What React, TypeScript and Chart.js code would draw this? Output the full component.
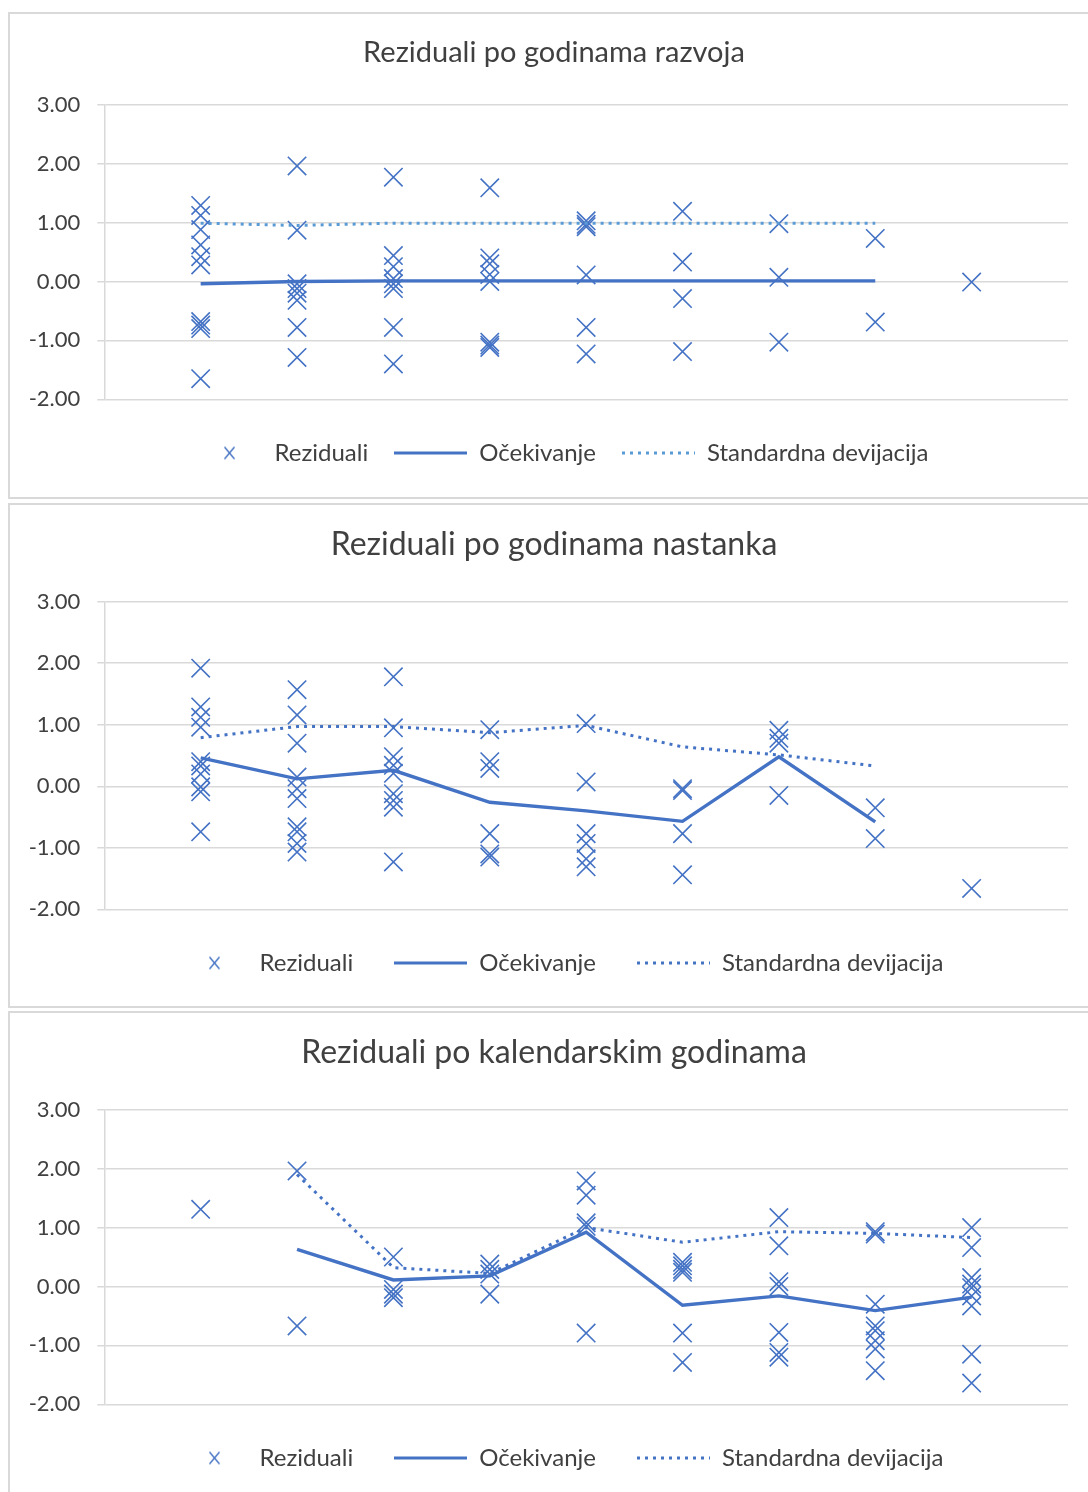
import React, { useEffect, useRef } from "react";
import { Chart, registerables } from "chart.js";

Chart.register(...registerables);

// ---------- data ----------
const xCategories = [1, 2, 3, 4, 5, 6, 7, 8, 9];
const yTickValues = [-2, -1, 0, 1, 2, 3];

const legendLabels = ["Reziduali", "Očekivanje", "Standardna devijacija"];

// Chart 1: Reziduali po godinama razvoja
const razvojTitle = "Reziduali po godinama razvoja";
const razvojResiduals: number[][] = [
  [1.29, 1.12, 0.88, 0.62, 0.42, 0.28, -0.68, -0.74, -0.8, -1.65],
  [1.96, 0.87, -0.04, -0.12, -0.2, -0.32, -0.78, -1.29],
  [1.77, 0.44, 0.25, 0.05, -0.04, -0.12, -0.78, -1.4],
  [1.59, 0.4, 0.3, 0.12, 0.0, -1.03, -1.08, -1.12],
  [1.03, 0.97, 0.93, 0.11, -0.78, -1.23],
  [1.19, 0.33, -0.29, -1.19],
  [0.98, 0.07, -1.03],
  [0.73, -0.69],
  [-0.01],
];
const razvojExpected: (number | null)[] = [-0.04, 0.0, 0.01, 0.01, 0.01, 0.01, 0.01, 0.01, null];
const razvojStd: (number | null)[] = [0.99, 0.95, 0.99, 0.99, 0.99, 0.99, 0.99, 0.99, null];

// Chart 2: Reziduali po godinama nastanka
const nastankaTitle = "Reziduali po godinama nastanka";
const nastankaResiduals: number[][] = [
  [1.92, 1.29, 1.12, 0.96, 0.4, 0.33, 0.2, -0.01, -0.09, -0.74],
  [1.57, 1.16, 0.7, 0.15, -0.04, -0.2, -0.66, -0.74, -0.93, -1.07],
  [1.78, 0.95, 0.48, 0.34, 0.21, -0.12, -0.23, -0.34, -1.23],
  [0.92, 0.4, 0.29, -0.77, -1.1, -1.15],
  [1.02, 0.07, -0.77, -0.93, -1.18, -1.31],
  [-0.04, -0.07, -0.77, -1.44],
  [0.91, 0.78, 0.7, -0.15],
  [-0.35, -0.85],
  [-1.66],
];
const nastankaExpected: (number | null)[] = [0.46, 0.12, 0.26, -0.26, -0.4, -0.57, 0.48, -0.58, null];
const nastankaStd: (number | null)[] = [0.79, 0.97, 0.97, 0.87, 0.99, 0.64, 0.51, 0.33, null];

// Chart 3: Reziduali po kalendarskim godinama
const kalendarTitle = "Reziduali po kalendarskim godinama";
const kalendarResiduals: number[][] = [
  [1.31],
  [1.96, -0.67],
  [0.5, -0.05, -0.13, -0.19],
  [0.38, 0.29, 0.21, -0.13],
  [1.79, 1.55, 1.08, 1.02, -0.79],
  [0.41, 0.35, 0.29, 0.24, -0.79, -1.29],
  [1.17, 0.69, 0.08, 0.0, -0.78, -1.12, -1.2],
  [0.93, 0.89, -0.3, -0.67, -0.75, -0.92, -1.06, -1.43],
  [1.0, 0.66, 0.15, 0.04, -0.02, -0.16, -0.33, -1.15, -1.64],
];
const kalendarExpected: (number | null)[] = [null, 0.63, 0.11, 0.18, 0.92, -0.32, -0.16, -0.41, -0.18];
const kalendarStd: (number | null)[] = [null, 1.9, 0.32, 0.22, 1.0, 0.75, 0.93, 0.9, 0.83];

// ---------- styles ----------
const BLUE = "#4472C4";
const LIGHT_BLUE = "#5B9BD5";
const GRID = "#D9D9D9";
const TEXT = "#404040";
const FONT = "Lato";

type Spec = {
  title: string;
  residuals: number[][];
  expected: (number | null)[];
  std: (number | null)[];
  stdColor: string;
  boxTop: number;
  boxHeight: number;
  canvasHeight: number;
  titleSize: number;
  titlePadTop: number;
  titlePadBottom: number;
  legendPadding: number;
  xAxisHeight: number;
  padBottom: number;
};

const specs: Spec[] = [
  {
    title: razvojTitle,
    residuals: razvojResiduals,
    expected: razvojExpected,
    std: razvojStd,
    stdColor: LIGHT_BLUE,
    boxTop: 12,
    boxHeight: 487,
    canvasHeight: 483,
    titleSize: 29,
    titlePadTop: 21.6,
    titlePadBottom: 34.3,
    legendPadding: 26,
    xAxisHeight: 15.7,
    padBottom: 22,
  },
  {
    title: nastankaTitle,
    residuals: nastankaResiduals,
    expected: nastankaExpected,
    std: nastankaStd,
    stdColor: BLUE,
    boxTop: 503,
    boxHeight: 505,
    canvasHeight: 501,
    titleSize: 32,
    titlePadTop: 20.8,
    titlePadBottom: 37.5,
    legendPadding: 41,
    xAxisHeight: 0.7,
    padBottom: 21,
  },
  {
    title: kalendarTitle,
    residuals: kalendarResiduals,
    expected: kalendarExpected,
    std: kalendarStd,
    stdColor: BLUE,
    boxTop: 1011,
    boxHeight: 500,
    canvasHeight: 479,
    titleSize: 32,
    titlePadTop: 20.8,
    titlePadBottom: 37.5,
    legendPadding: 41,
    xAxisHeight: 0.7,
    padBottom: 12,
  },
];

// horizontal offsets of title and legend blocks (relative to centred layout)
const TITLE_SHIFT = 15;
const LEGEND_SHIFT = 20;

function makeSymbol(kind: "x" | "solid" | "dot", color: string): HTMLCanvasElement {
  const c = document.createElement("canvas");
  if (kind === "x") {
    c.width = 22;
    c.height = 15;
    const ctx = c.getContext("2d")!;
    ctx.strokeStyle = color;
    ctx.lineWidth = 1.4;
    ctx.beginPath();
    ctx.moveTo(9.5, 1.5);
    ctx.lineTo(19.5, 13.5);
    ctx.moveTo(19.5, 1.5);
    ctx.lineTo(9.5, 13.5);
    ctx.stroke();
  } else {
    c.width = 73;
    c.height = 4;
    const ctx = c.getContext("2d")!;
    ctx.strokeStyle = color;
    ctx.lineWidth = 3;
    if (kind === "dot") ctx.setLineDash([3, 5]);
    ctx.beginPath();
    ctx.moveTo(0, 2);
    ctx.lineTo(73, 2);
    ctx.stroke();
  }
  return c;
}

function toPoints(values: (number | null)[]) {
  const pts: { x: number; y: number }[] = [];
  xCategories.forEach((x, i) => {
    const v = values[i];
    if (v !== null && v !== undefined) pts.push({ x, y: v });
  });
  return pts;
}

const shiftBoxesPlugin = {
  id: "shiftBoxes",
  afterLayout(chart: any) {
    const lg = chart.legend;
    if (lg) {
      lg.left += LEGEND_SHIFT;
      lg.right += LEGEND_SHIFT;
    }
    const tb = chart.titleBlock;
    if (tb) {
      tb.left += TITLE_SHIFT;
      tb.right += TITLE_SHIFT;
    }
  },
};

function ChartPanel({ spec }: { spec: Spec }) {
  const ref = useRef<HTMLCanvasElement>(null);
  useEffect(() => {
    if (!ref.current) return;
    const residualPts = xCategories.flatMap((x, i) => spec.residuals[i].map((y) => ({ x, y })));
    const xSym = makeSymbol("x", BLUE);
    const solidSym = makeSymbol("solid", BLUE);
    const dotSym = makeSymbol("dot", spec.stdColor);
    const symbols = [xSym, solidSym, dotSym];

    const chart = new Chart(ref.current, {
      type: "scatter",
      data: {
        datasets: [
          {
            label: legendLabels[0],
            data: residualPts,
            pointStyle: "crossRot",
            pointRadius: 13,
            pointHoverRadius: 13,
            borderColor: BLUE,
            pointBorderColor: BLUE,
            backgroundColor: "transparent",
            pointBackgroundColor: "transparent",
            pointBorderWidth: 1.6,
            borderWidth: 1.6,
            showLine: false,
            order: 3,
          },
          {
            label: legendLabels[1],
            data: toPoints(spec.expected),
            showLine: true,
            borderColor: BLUE,
            backgroundColor: BLUE,
            borderWidth: 3.4,
            pointRadius: 0,
            pointHoverRadius: 0,
            fill: false,
            tension: 0,
            order: 2,
          },
          {
            label: legendLabels[2],
            data: toPoints(spec.std),
            showLine: true,
            borderColor: spec.stdColor,
            backgroundColor: spec.stdColor,
            borderWidth: 3,
            borderDash: [3, 5],
            pointRadius: 0,
            pointHoverRadius: 0,
            fill: false,
            tension: 0,
            order: 1,
          },
        ] as any,
      },
      options: {
        responsive: false,
        animation: false,
        events: [],
        layout: { padding: { left: 0, right: 38, top: 0, bottom: spec.padBottom } },
        plugins: {
          title: {
            display: true,
            text: spec.title,
            color: TEXT,
            font: { family: FONT, size: spec.titleSize, weight: "normal" },
            padding: { top: spec.titlePadTop, bottom: spec.titlePadBottom },
          },
          legend: {
            display: true,
            position: "bottom",
            align: "center",
            labels: {
              usePointStyle: true,
              pointStyleWidth: 73,
              boxHeight: 12,
              padding: spec.legendPadding,
              color: TEXT,
              font: { family: FONT, size: 24 },
              generateLabels: () =>
                legendLabels.map((text, i) => ({
                  text,
                  pointStyle: symbols[i] as any,
                  datasetIndex: i,
                  hidden: false,
                  fillStyle: "transparent",
                  strokeStyle: BLUE,
                  lineWidth: 0,
                  fontColor: TEXT,
                })),
            },
          },
          tooltip: { enabled: false },
        },
        scales: {
          x: {
            type: "linear",
            min: 0,
            max: 10,
            grid: { display: false },
            border: { display: false },
            ticks: { display: false },
            afterFit: (s: any) => {
              s.height = spec.xAxisHeight;
            },
          },
          y: {
            type: "linear",
            min: yTickValues[0],
            max: yTickValues[yTickValues.length - 1],
            ticks: {
              stepSize: 1,
              padding: 17,
              color: TEXT,
              font: { family: FONT, size: 22 },
              callback: (v: any) => Number(v).toFixed(2),
            },
            grid: { color: GRID, lineWidth: 1.5, tickLength: 7, drawTicks: true },
            border: { display: true, color: GRID, width: 1.5 },
            afterFit: (s: any) => {
              s.width = 94.3;
            },
          },
        },
      } as any,
      plugins: [shiftBoxesPlugin as any],
    });
    return () => chart.destroy();
  }, [spec]);

  return (
    <div
      style={{
        position: "absolute",
        left: 8,
        top: spec.boxTop,
        width: 1100,
        height: spec.boxHeight,
        border: `2px solid ${GRID}`,
        boxSizing: "border-box",
        background: "#fff",
      }}
    >
      <canvas
        ref={ref}
        width={1096}
        height={spec.canvasHeight}
        style={{ position: "absolute", left: 0, top: 0 }}
      />
    </div>
  );
}

export default function App() {
  return (
    <div
      style={{
        position: "absolute",
        left: 0,
        top: 0,
        width: 1088,
        height: 1492,
        overflow: "hidden",
        background: "#fff",
      }}
    >
      {specs.map((s, i) => (
        <ChartPanel key={i} spec={s} />
      ))}
    </div>
  );
}
